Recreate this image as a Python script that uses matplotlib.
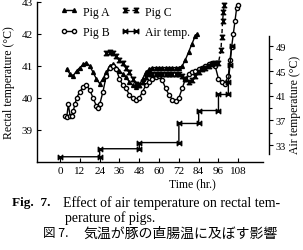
import matplotlib
matplotlib.use("Agg")
import matplotlib.pyplot as plt
import numpy as np
from matplotlib.path import Path

# ---------------- data ----------------
pigA_t = [4, 6, 8, 10, 12, 14, 16, 18, 20, 22, 24, 26, 28, 30, 32, 34, 36, 38, 40, 42, 44, 46,
          48, 50, 52, 54, 56, 58, 60, 62, 64, 66, 68, 70, 72, 74, 76, 78, 80, 82, 83]
pigA_v = [40.9, 40.75, 40.7, 40.85, 40.95, 41.05, 41.1, 41.0, 40.8, 40.6, 40.45, 40.6, 40.8,
          41.0, 41.05, 40.95, 40.85, 40.75, 40.65, 40.5, 40.4, 40.35, 40.4, 40.6, 40.8, 40.9,
          40.95, 40.95, 40.95, 40.95, 40.95, 40.95, 40.95, 40.95, 40.95, 41.0, 41.2, 41.45,
          41.7, 41.95, 42.0]

pigB_t = [3, 4, 5, 6, 7, 8, 9, 10, 12, 14, 16, 18, 20, 22, 23, 24, 26, 28, 30, 32, 34, 36,
          38, 40, 42, 44, 46, 48, 50, 52, 54, 56, 58, 60, 62, 64, 66, 68, 70, 72, 74, 76, 78,
          80, 82, 84, 86, 88, 90, 92, 94, 96, 98, 100, 102, 103, 104, 105, 106, 107, 108]
pigB_v = [39.45, 39.4, 39.8, 39.45, 39.45, 39.6, 39.8, 40.0, 40.2, 40.35, 40.4, 40.25, 40.0,
          39.75, 39.7, 39.8, 40.2, 40.7, 40.95, 41.0, 40.9, 40.6, 40.4, 40.3, 40.1, 40.0,
          39.95, 40.0, 40.2, 40.4, 40.5, 40.6, 40.65, 40.7, 40.55, 40.3, 40.1, 39.95, 39.9,
          40.0, 40.3, 40.6, 40.75, 40.8, 40.85, 40.9, 40.95, 41.0, 41.05, 41.1, 41.0, 40.6,
          40.5, 40.45, 40.7, 41.2, 41.6, 42.0, 42.4, 42.8, 42.9]

pigC_t = [28, 30, 32, 34, 36, 38, 40, 42, 44, 46, 48, 50, 52, 54, 56, 58, 60, 62, 64, 66, 68,
          70, 72, 74, 76, 78, 80, 82, 84, 86, 88, 90, 92, 94, 96, 97.5, 98, 98.5, 99, 99.5]
pigC_v = [41.4, 41.45, 41.4, 41.3, 41.2, 41.1, 40.95, 40.8, 40.6, 40.45, 40.4, 40.5, 40.65,
          40.75, 40.75, 40.75, 40.75, 40.75, 40.75, 40.75, 40.75, 40.75, 40.75, 40.7, 40.6,
          40.5, 40.55, 40.7, 40.8, 40.9, 40.95, 41.0, 41.05, 41.1, 41.1, 41.5, 41.9, 42.4,
          42.7, 42.9]

air_t = [0, 24, 24, 48, 48, 72, 72, 84, 84, 96, 96, 102, 102, 103, 104]
air_v = [31.1, 31.1, 32.4, 32.4, 33.4, 33.4, 36.5, 36.5, 38.6, 38.6, 41.2, 41.2, 43.2, 46.0, 49.0]

x_ticks = [0, 12, 24, 36, 48, 60, 72, 84, 96, 108]
rect_ticks = [39, 40, 41, 42, 43]
air_ticks = [33, 37, 41, 45, 49]
air_minor = [35, 39, 43, 47]

# ---------------- styling ----------------
serif = "Liberation Serif"
plt.rcParams["font.family"] = [serif, "DejaVu Serif"]

fig = plt.figure(figsize=(3.03, 2.51), dpi=100)
L, R, B, T = 37 / 303, 263 / 303, (251 - 163) / 251, (251 - 3) / 251
ax = fig.add_axes([L, B, R - L, T - B])

hour = Path([(-1, 1), (1, 1), (-1, -1), (1, -1), (-1, 1)],
            [Path.MOVETO, Path.LINETO, Path.LINETO, Path.LINETO, Path.CLOSEPOLY])
bow = Path([(-1, 1), (1, -1), (1, 1), (-1, -1), (-1, 1)],
           [Path.MOVETO, Path.LINETO, Path.LINETO, Path.LINETO, Path.CLOSEPOLY])

lA, = ax.plot(pigA_t, pigA_v, color="black", lw=1.0, marker="^", ms=2.8, mfc="black",
              mec="black", label="Pig A")
lB, = ax.plot(pigB_t, pigB_v, color="black", lw=1.0, marker="o", ms=3.0, mfc="white",
              mec="black", mew=1.0, label="Pig B")
lC, = ax.plot(pigC_t, pigC_v, color="black", lw=1.0, ls=(0, (3, 2)), marker=hour, ms=3.2,
              mfc="black", mec="black", label="Pig C")

ax.set_xlim(-14, 123)
ax.set_ylim(38, 43)
ax.set_xticks(x_ticks)
ax.set_yticks(rect_ticks)
ax.tick_params(direction="in", length=3, width=0.8, labelsize=8, pad=3)
for s in ["top", "right"]:
    ax.spines[s].set_visible(False)
for s in ["left", "bottom"]:
    ax.spines[s].set_linewidth(1.0)
ax.set_ylabel("Rectal temperature (\u00b0C)", fontsize=8.5, labelpad=5)

ax2 = ax.twinx()
lAir, = ax2.plot(air_t, air_v, color="black", lw=1.0, marker=bow, ms=3.2, mfc="black",
                 mec="black", label="Air temp.")
ax2.set_ylim(30.25, 56.2)
for s in ["top", "left", "bottom"]:
    ax2.spines[s].set_visible(False)
ax2.spines["right"].set_position(("outward", 4))
ax2.spines["right"].set_bounds(31.5, 50.7)
ax2.spines["right"].set_linewidth(1.0)
ax2.set_yticks(air_ticks)
ax2.set_yticks(air_minor, minor=True)
ax2.tick_params(axis="y", which="major", direction="out", length=3, width=0.8, labelsize=7.5, pad=2)
ax2.tick_params(axis="y", which="minor", direction="out", length=2.5, width=0.8)
ax2.set_ylabel("Air temperature (\u00b0C)", fontsize=8.5, va="center")
ax2.yaxis.set_label_coords(1.14, 0.36)

leg = ax.legend([lA, lB, lC, lAir], ["Pig A", "Pig B", "Pig C", "Air temp."], ncol=2,
                loc="upper left", bbox_to_anchor=(22 / 226, 0.985), frameon=False,
                fontsize=8.5, numpoints=2, handlelength=1.5, handletextpad=0.45,
                columnspacing=1.0, labelspacing=0.75, borderpad=0.1, borderaxespad=0)

fig.text(192 / 303, 1 - 184 / 251, "Time (hr.)", ha="center", va="center", fontsize=8.5)

fig.text(12 / 303, 1 - 203 / 251, "Fig.  7.", ha="left", va="center", fontsize=9.5,
         fontweight="bold")
fig.text(63 / 303, 1 - 203 / 251, "Effect of air temperature on rectal tem-",
         ha="left", va="center", fontsize=10)
fig.text(65 / 303, 1 - 218 / 251, "perature of pigs.", ha="left", va="center", fontsize=10)
jp = ["Noto Sans CJK JP", "DejaVu Sans"]
fig.text(43 / 303, 1 - 234 / 251, "図 7.", ha="left", va="center", fontsize=9,
         family=jp)
fig.text(83 / 303, 1 - 234 / 251, "気温が豚の直腸温に及ぼす影響", ha="left", va="center",
         fontsize=10, family=jp)

fig.savefig("out.png", dpi=100)
